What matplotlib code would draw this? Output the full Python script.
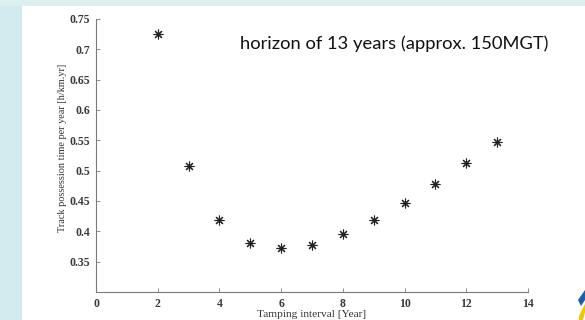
import matplotlib
matplotlib.use("Agg")
import matplotlib.pyplot as plt
from matplotlib.patches import Rectangle, Polygon

intervals = [2, 3, 4, 5, 6, 7, 8, 9, 10, 11, 12, 13]
possession = [0.726, 0.507, 0.418, 0.381, 0.372, 0.378, 0.395, 0.418, 0.446, 0.478, 0.512, 0.548]
xticks = [0, 2, 4, 6, 8, 10, 12, 14]
yticks = [0.35, 0.4, 0.45, 0.5, 0.55, 0.6, 0.65, 0.7, 0.75]
ytick_labels = ["0.35", "0.4", "0.45", "0.5", "0.55", "0.6", "0.65", "0.7", "0.75"]

fig = plt.figure(figsize=(5.85, 3.2), dpi=100)
fig.patch.set_facecolor("white")

# slide frame (light blue bands on left and top)
fig.patches.append(Rectangle((0, 0), 22 / 585, 1, transform=fig.transFigure,
                             facecolor="#d3ebef", edgecolor="none", zorder=0))
fig.patches.append(Rectangle((0, 1 - 6 / 320), 1, 6 / 320, transform=fig.transFigure,
                             facecolor="#dcf0f2", edgecolor="none", zorder=0))
# logo stripes bottom right
fig.patches.append(Polygon([(578 / 585, 1 - 300 / 320), (585 / 585, 1 - 290 / 320),
                            (585 / 585, 1 - 300 / 320), (581 / 585, 1 - 306 / 320)],
                           closed=True, transform=fig.transFigure,
                           facecolor="#1f5fa8", edgecolor="none"))
fig.patches.append(Polygon([(579 / 585, 1 - 316 / 320), (585 / 585, 1 - 304 / 320),
                            (585 / 585, 1 - 312 / 320), (583 / 585, 1 - 320 / 320),
                            (579 / 585, 1 - 320 / 320)],
                           closed=True, transform=fig.transFigure,
                           facecolor="#f2c500", edgecolor="none"))

ax = fig.add_axes([96 / 585, 1 - 292 / 320, (528 - 96) / 585, (292 - 19) / 320])
ax.set_facecolor("none")
ax.plot(intervals, possession, linestyle="none", marker=(8, 2, 0), color="#222222",
        markersize=7, markeredgewidth=0.8)

ax.set_xlim(0, 14)
ax.set_ylim(0.3, 0.75)
ax.set_xticks(xticks)
ax.set_yticks(yticks)
ax.set_yticklabels(ytick_labels)

for s in ["top", "right"]:
    ax.spines[s].set_visible(False)
for s in ["left", "bottom"]:
    ax.spines[s].set_color("#7a7a7a")
    ax.spines[s].set_linewidth(0.8)
ax.tick_params(direction="in", length=3, width=0.6, color="#7a7a7a",
               labelsize=8.5, labelcolor="#3a3a3a", pad=4)
for lab in ax.get_xticklabels() + ax.get_yticklabels():
    lab.set_fontfamily("Liberation Serif")
    lab.set_fontweight("bold")

ax.set_xlabel("Tamping interval [Year]", fontsize=8.2, family="Liberation Serif",
              color="#333333", labelpad=0)
ax.set_ylabel("Track possession time per year [h/km.yr]", fontsize=7.4,
              family="Liberation Serif", color="#333333")
ax.yaxis.set_label_coords(-0.066, 0.527)

fig.text(548 / 585, 1 - 44 / 320, "horizon of 13 years (approx. 150MGT)",
         fontsize=13.2, family="Lato", color="#111111", ha="right", va="center")

fig.savefig("out.png", dpi=100)
